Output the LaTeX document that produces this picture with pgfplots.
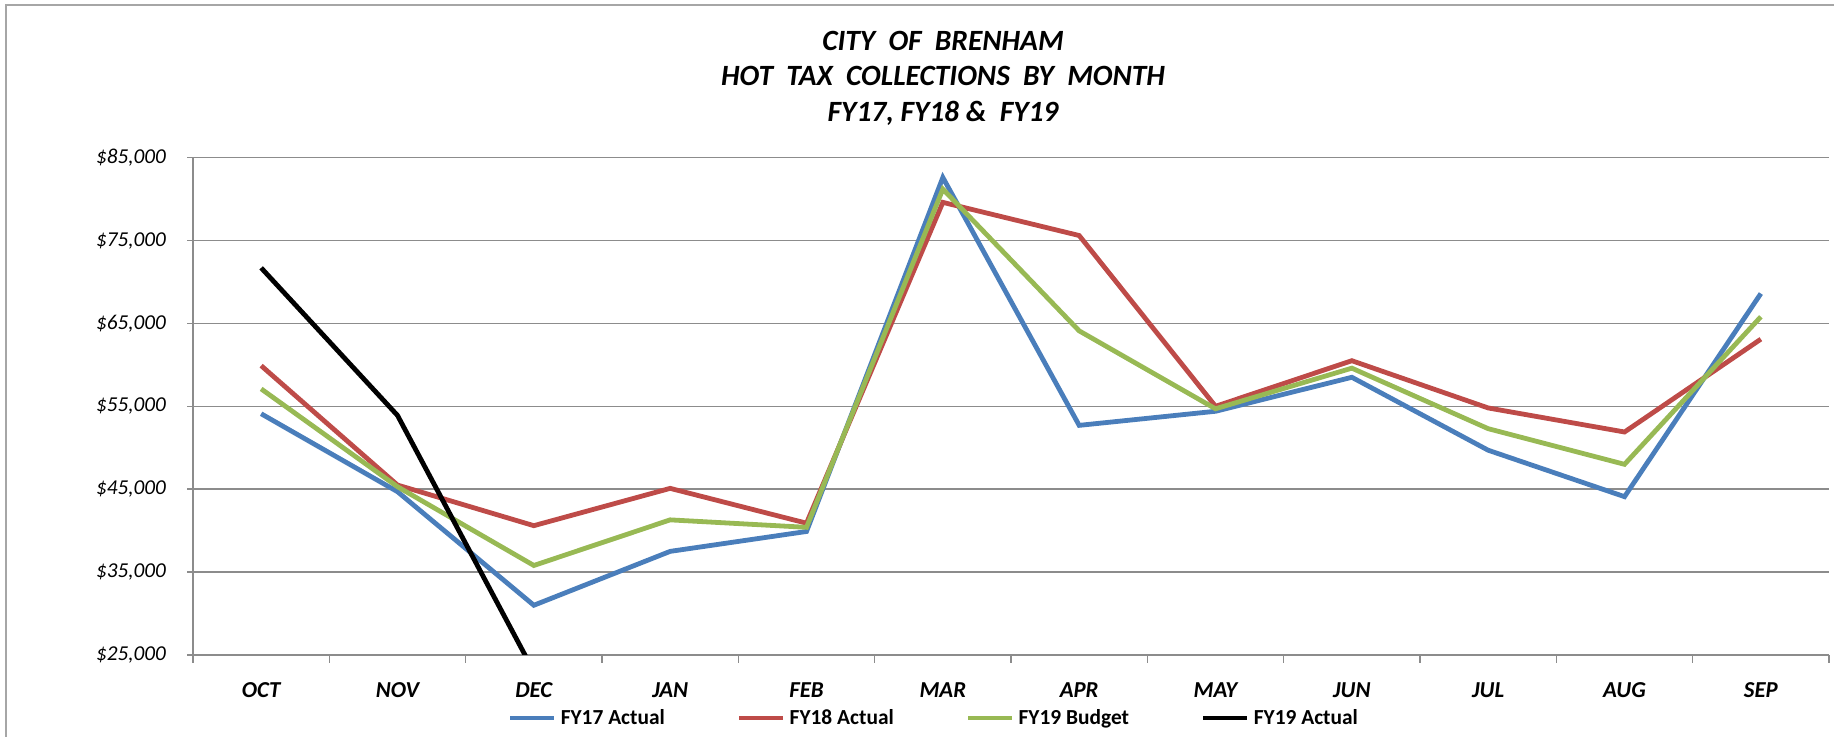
\documentclass[border=0pt]{standalone}
\usepackage{pgfplots}
\pgfplotsset{compat=1.18}
\usepackage{fontspec}
\setmainfont{Carlito}
\definecolor{cBlue}{HTML}{4A7EBB}
\definecolor{cRed}{HTML}{BE4B48}
\definecolor{cGreen}{HTML}{98B954}
\definecolor{cGrid}{HTML}{8C8C8C}
\definecolor{cFrame}{HTML}{A6A6A6}
\begin{document}
\begin{tikzpicture}
\useasboundingbox (0pt,0pt) rectangle (917pt,368.5pt);
\draw[cFrame, line width=0.8pt] (3pt,-20pt) -- (3pt,366pt) -- (940pt,366pt);
\node[font=\fontsize{14.7}{17}\selectfont\bfseries\itshape] at (471.5pt,348pt) {CITY\ \ OF\ \ BRENHAM};
\node[font=\fontsize{14.7}{17}\selectfont\bfseries\itshape] at (471.5pt,330.5pt) {HOT\ \ TAX\ \ COLLECTIONS\ \ BY\ \ MONTH};
\node[font=\fontsize{14.7}{17}\selectfont\bfseries\itshape] at (471.5pt,312pt) {FY17, FY18 \&\ \ FY19};
\begin{axis}[
  at={(96.5pt,41pt)}, anchor=south west,
  width=818pt, height=248.7pt, scale only axis,
  xmin=-0.5, xmax=11.5, ymin=25000, ymax=85000,
  axis lines=left, axis line style={-, draw=cGrid, line width=0.75pt},
  tick align=outside,
  scaled ticks=false,
  xtick={0,...,11},
  xticklabels={OCT,NOV,DEC,JAN,FEB,MAR,APR,MAY,JUN,JUL,AUG,SEP},
  major x tick style={draw=none},
  minor xtick={-0.5,0.5,...,11.5},
  minor x tick style={draw=cGrid, line width=0.75pt},
  minor tick length=4pt,
  xticklabel style={font=\fontsize{11.4}{13}\selectfont\bfseries\itshape, anchor=center, yshift=-14.5pt},
  ytick={25000,35000,45000,55000,65000,75000,85000},
  yticklabels={{\$25,000},{\$35,000},{\$45,000},{\$55,000},{\$65,000},{\$75,000},{\$85,000}},
  yticklabel style={font=\fontsize{10.6}{12}\selectfont\itshape, xshift=-7pt},
  major y tick style={draw=cGrid, line width=0.75pt},
  major tick length=3pt,
  ymajorgrids, grid style={draw=cGrid, line width=0.75pt},
  legend columns=4,
  legend style={at={(axis description cs:0.4535,-0.1267)}, anchor=center, draw=none, fill=none,
    font=\fontsize{10.7}{12}\selectfont\bfseries,
    /tikz/every even column/.append style={column sep=34pt}},
  legend image code/.code={\draw[#1] (0pt,0pt) -- (22pt,0pt);},
]
\addplot[cBlue, line width=2.4pt] coordinates {(0,54100) (1,44700) (2,31000) (3,37500) (4,39900) (5,82600) (6,52700) (7,54400) (8,58500) (9,49700) (10,44100) (11,68600)};
\addlegendentry{FY17 Actual}
\addplot[cRed, line width=2.4pt] coordinates {(0,59900) (1,45500) (2,40600) (3,45100) (4,40900) (5,79600) (6,75600) (7,55000) (8,60500) (9,54800) (10,51900) (11,63100)};
\addlegendentry{FY18 Actual}
\addplot[cGreen, line width=2.4pt] coordinates {(0,57100) (1,45300) (2,35800) (3,41300) (4,40400) (5,81200) (6,64100) (7,54700) (8,59600) (9,52300) (10,48000) (11,65800)};
\addlegendentry{FY19 Budget}
\addplot[black, line width=2.4pt] coordinates {(0,71700) (1,53900) (2,23000)};
\addlegendentry{FY19 Actual}
\end{axis}
\end{tikzpicture}
\end{document}
